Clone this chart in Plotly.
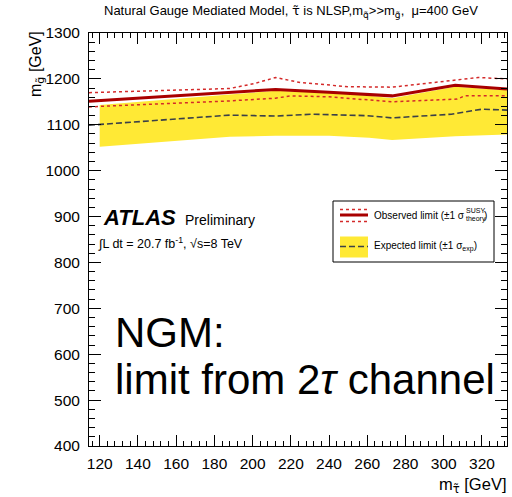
import plotly.graph_objects as go

# Expected limit +-1 sigma band (gluino mass vs stau mass)
m_stau_band = [120, 188, 212, 240, 261, 273, 306, 333.1]
exp_up = [1143, 1166, 1174, 1170, 1163, 1158, 1183, 1175]
exp_down = [1052, 1074, 1076, 1076, 1072, 1067, 1075, 1079]

# Expected limit (median)
m_stau_exp = [114.4, 188, 212, 231, 259, 273, 304, 320, 333.1]
exp_lim = [1099, 1121, 1119, 1123, 1120, 1115, 1123, 1134, 1132]

# Observed limit
m_stau_obs = [114.4, 188, 212, 240, 273, 306, 333.1]
obs_lim = [1151, 1170, 1177, 1171, 1163, 1186, 1178]

# Observed limit +1 sigma theory
m_stau_obs_up = [114.4, 188, 201, 212, 225, 250, 273, 306, 318, 333.1]
obs_up = [1170, 1179, 1190, 1203, 1192, 1183, 1182, 1198, 1203, 1200]

# Observed limit -1 sigma theory
m_stau_obs_dn = [114.4, 188, 212, 220, 240, 273, 307, 311, 333.1]
obs_dn = [1139, 1152, 1158, 1163, 1161, 1150, 1156, 1163, 1163]

X_RANGE = [114.4, 333.1]
Y_RANGE = [400, 1300]

RED = "#a80000"
RED_DOT = "#d42a2a"
YELLOW = "#ffe935"
DASH_COL = "#3b4048"
FONT = "Liberation Sans, Arial, Helvetica, sans-serif"
TILDE_FONT = "DejaVu Sans"

# plot-area pixel frame used for placing the text blocks
PL, PR, PT, PB = 89, 507, 33, 446
W, H = 512, 497


def px(x):
    return (x - PL) / (PR - PL)


def py(y):
    return (PB - y) / (PB - PT)


def tl(ch):
    """Character with a combining tilde, in a font that composes it."""
    return f'<span style="font-family:{TILDE_FONT}">{ch}\u0303</span>'


fig = go.Figure()

fig.add_trace(go.Scatter(
    x=m_stau_band + m_stau_band[::-1],
    y=exp_up + exp_down[::-1],
    fill="toself", fillcolor=YELLOW, mode="none",
    hoverinfo="skip", showlegend=False,
))
fig.add_trace(go.Scatter(
    x=m_stau_exp, y=exp_lim, mode="lines",
    line=dict(color=DASH_COL, width=1.6, dash="6px,3px"),
    showlegend=False,
))
fig.add_trace(go.Scatter(
    x=m_stau_obs_up, y=obs_up, mode="lines",
    line=dict(color=RED_DOT, width=1.5, dash="dot"),
    showlegend=False,
))
fig.add_trace(go.Scatter(
    x=m_stau_obs_dn, y=obs_dn, mode="lines",
    line=dict(color=RED_DOT, width=1.5, dash="dot"),
    showlegend=False,
))
fig.add_trace(go.Scatter(
    x=m_stau_obs, y=obs_lim, mode="lines",
    line=dict(color=RED, width=3),
    showlegend=False,
))

axis_common = dict(
    showline=True, linecolor="black", linewidth=1, mirror="allticks",
    ticks="inside", tickcolor="black", tickwidth=1,
    showgrid=False, zeroline=False,
    tickfont=dict(family=FONT, size=15.5, color="black"),
)

fig.update_xaxes(
    range=X_RANGE, dtick=20, tick0=120, ticklen=11,
    minor=dict(dtick=4, tick0=120, ticks="inside", ticklen=5, tickcolor="black"),
    ticklabelstandoff=3,
    **axis_common,
)
fig.update_yaxes(
    range=Y_RANGE, dtick=100, tick0=400, ticklen=12,
    minor=dict(dtick=20, tick0=400, ticks="inside", ticklen=6, tickcolor="black"),
    ticklabelstandoff=5,
    **axis_common,
)

shapes = []
# legend box
shapes.append(dict(type="rect", xref="paper", yref="paper",
                   x0=px(333), x1=px(494), y0=py(262), y1=py(201),
                   line=dict(color="black", width=1), fillcolor="white"))
# observed legend symbol
shapes.append(dict(type="line", xref="paper", yref="paper",
                   x0=px(340), x1=px(368), y0=py(215), y1=py(215),
                   line=dict(color=RED, width=3)))
for yy in (209.5, 221.5):
    shapes.append(dict(type="line", xref="paper", yref="paper",
                       x0=px(340), x1=px(368), y0=py(yy), y1=py(yy),
                       line=dict(color=RED_DOT, width=1.3, dash="dot")))
# expected legend symbol
shapes.append(dict(type="rect", xref="paper", yref="paper",
                   x0=px(340), x1=px(368), y0=py(257.5), y1=py(236.5),
                   line=dict(width=0), fillcolor=YELLOW))
shapes.append(dict(type="line", xref="paper", yref="paper",
                   x0=px(340), x1=px(368), y0=py(246.5), y1=py(246.5),
                   line=dict(color=DASH_COL, width=1.6, dash="6px,3px")))

ann = []


def text(x, y, s, size, xanchor="left", yanchor="middle", angle=0):
    ann.append(dict(
        xref="paper", yref="paper", x=px(x), y=py(y), text=s,
        showarrow=False, xanchor=xanchor, yanchor=yanchor,
        textangle=angle,
        font=dict(family=FONT, size=size, color="black"),
    ))


# title line
text(291, 12, f"Natural Gauge Mediated Model, {tl('τ')} is NLSP,m<sub>{tl('q')}</sub>&gt;&gt;m<sub>{tl('g')}</sub>,  μ=400 GeV",
     13, xanchor="center")
# axis titles
text(37, 29, f"m<sub>{tl('g')}</sub> [GeV]", 16, xanchor="center", yanchor="top", angle=-90)
text(508, 485, f"m<sub>{tl('τ')}</sub> [GeV]", 16.5, xanchor="right")

# ATLAS label
text(101, 217, "<b><i>ATLAS</i></b>", 22)
text(183, 219.5, "Preliminary", 14)
text(96, 243, "∫L dt = 20.7 fb<sup>-1</sup>, √s=8 TeV", 12.5)

# legend texts
text(372, 215, "Observed limit (±1 σ", 10)
text(464, 211, "SUSY", 7)
text(464, 219, "theory", 7)
text(482, 215, ")", 10)
text(372, 246, "Expected limit (±1 σ<sub>exp</sub>)", 10)

# channel label
text(113, 332, "NGM:", 42)
text(113, 379, "limit from 2<i>τ</i> channel", 42)

fig.update_layout(
    width=W, height=H,
    margin=dict(l=PL, r=W - PR, t=PT, b=H - PB),
    paper_bgcolor="white", plot_bgcolor="white",
    shapes=shapes, annotations=ann,
    showlegend=False,
    font=dict(family=FONT),
)

fig.write_html("out.html")
